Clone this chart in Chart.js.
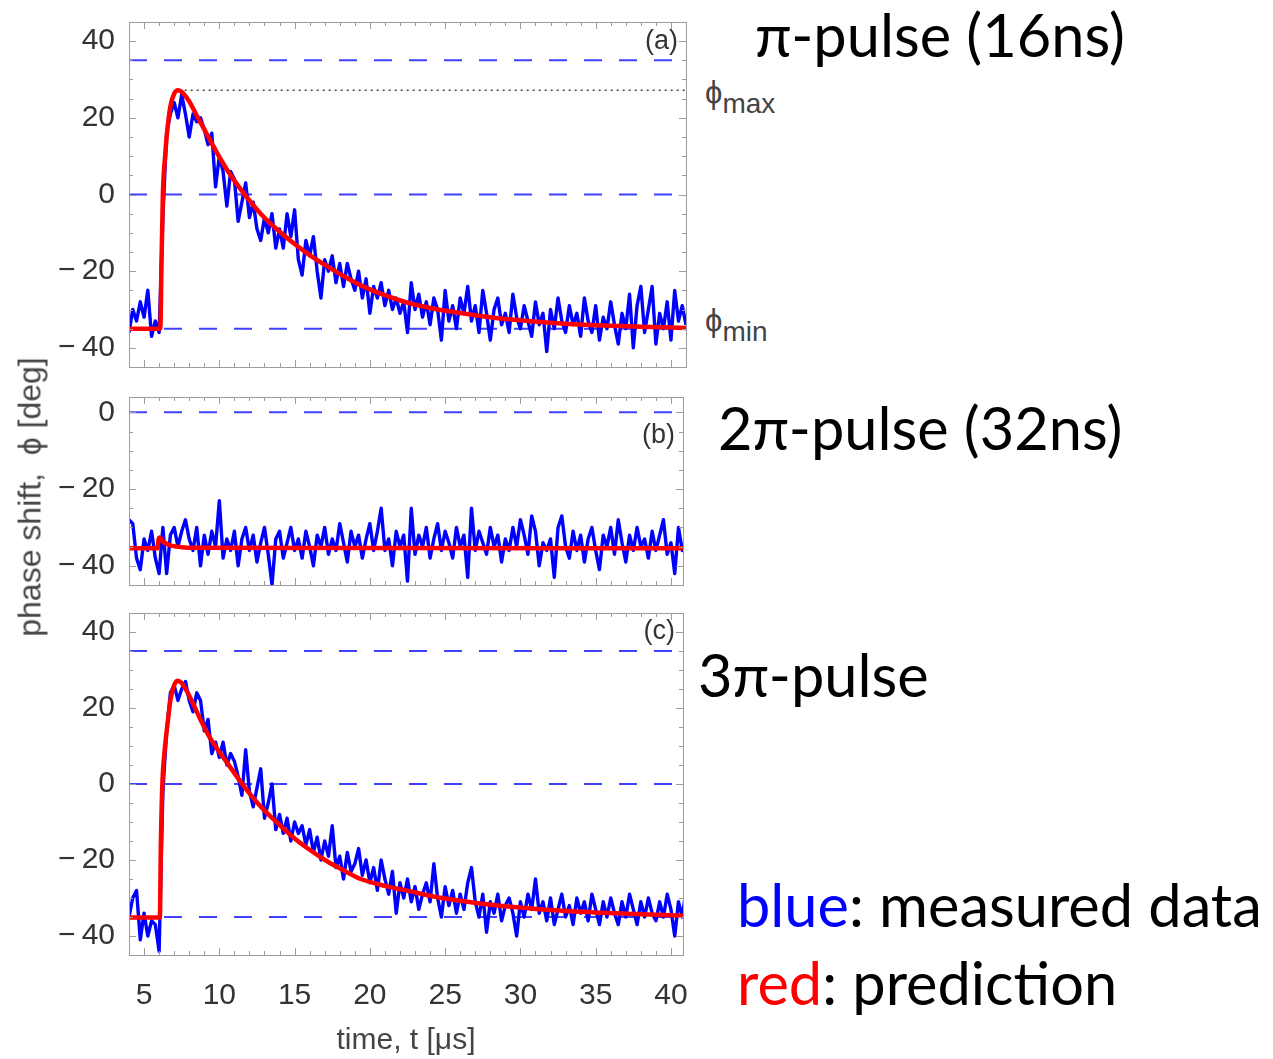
<!DOCTYPE html>
<html>
<head>
<meta charset="utf-8">
<script src="https://cdn.jsdelivr.net/npm/chart.js@4.4.0/dist/chart.umd.min.js"></script>
<style>
  body { margin: 0; background: #fff; }
  #page { position: relative; width: 1273px; height: 1059px; overflow: hidden; }
  canvas { position: absolute; left: 0; }
  .note { position: absolute; font-family: Lato, "Open Sans", sans-serif; font-size: 59.5px; line-height: 1; color: #000; white-space: nowrap; transform: translateY(-50%); }
  .phi { position: absolute; font-family: "Liberation Sans", "DejaVu Sans", sans-serif; font-size: 31px; line-height: 1; color: #444; white-space: nowrap; transform: translateY(-50%); }
  .phi span { position: relative; top: 10px; font-size: 28px; }
  #ytitle { position: absolute; left: 30px; top: 497px; transform: translate(-50%, -50%) rotate(-90deg); font-family: "Liberation Sans", sans-serif; font-size: 32px; color: #444; white-space: pre; }
</style>
</head>
<body>
<div id="page">
  <canvas id="panelA" width="700" height="380" style="top:0px"></canvas>
  <canvas id="panelB" width="700" height="220" style="top:380px"></canvas>
  <canvas id="panelC" width="700" height="459" style="top:600px"></canvas>
  <div id="ytitle">phase shift,  ϕ [deg]</div>
  <div class="phi" style="left:705px; top:92px">ϕ<span>max</span></div>
  <div class="phi" style="left:705px; top:320px">ϕ<span>min</span></div>
  <div class="note" style="left:755px; top:35px">π-pulse (16ns)</div>
  <div class="note" style="left:718px; top:428px">2π-pulse (32ns)</div>
  <div class="note" style="left:698px; top:675px">3π-pulse</div>
  <div class="note" style="left:737px; top:905px"><span style="color:#0000ff">blue</span>: measured data</div>
  <div class="note" style="left:737px; top:983px"><span style="color:#ff0000">red</span>: prediction</div>
</div>
<script>
// sampling grid of the measured traces (µs)
const timeStart = 4;
const timeStep = 0.25;

// measured phase shift [deg], panel (a) pi-pulse
const measuredA = [
  -36, -30, -33, -28, -32, -25, -37, -33,
  -36, -6, 16, 21, 24, 20, 26, 21,
  15, 21, 19, 20, 17, 13, 16, 2,
  10, 6, -3, 6, 4, -7, -2, 3,
  -6, -2, -9, -12, -6, -10, -5, -14,
  -9, -14, -5, -11, -4, -17, -21, -12,
  -16, -11, -20, -27, -17, -20, -16, -23,
  -18, -24, -18, -22, -25, -20, -27, -22,
  -31, -24, -27, -23, -29, -25, -30, -27,
  -31, -28, -36, -23, -30, -26, -32, -28,
  -34, -27, -30, -38, -25, -33, -29, -35,
  -27, -31, -24, -33, -29, -36, -25, -31,
  -38, -30, -27, -34, -31, -36, -26, -32,
  -35, -29, -33, -37, -28, -34, -31, -41,
  -30, -35, -27, -33, -36, -29, -34, -31,
  -37, -27, -33, -36, -29, -38, -32, -35,
  -28, -34, -39, -31, -35, -26, -40, -29,
  -24, -36, -30, -24, -39, -31, -35, -28,
  -38, -25, -33, -29, -34
];

// measured phase shift [deg], panel (b) 2pi-pulse
const measuredB = [
  -28, -29, -38, -41, -33, -36, -31, -38,
  -42, -30, -42, -32, -30, -35, -31, -28,
  -33, -36, -30, -40, -32, -37, -31, -35,
  -23, -38, -33, -36, -31, -40, -33, -30,
  -36, -32, -39, -34, -30, -37, -45, -33,
  -31, -38, -34, -30, -36, -33, -38, -31,
  -35, -40, -32, -35, -30, -37, -33, -36,
  -29, -34, -39, -31, -35, -32, -38, -33,
  -29, -36, -31, -25, -36, -33, -40, -31,
  -35, -32, -44, -25, -37, -32, -35, -30,
  -38, -33, -29, -36, -31, -34, -38, -30,
  -35, -32, -43, -25, -36, -31, -34, -37,
  -30, -35, -32, -39, -33, -36, -30, -35,
  -28, -32, -37, -27, -31, -40, -34, -36,
  -33, -43, -30, -27, -35, -38, -31, -36,
  -32, -39, -33, -30, -36, -41, -32, -35,
  -30, -37, -28, -34, -39, -32, -36, -30,
  -35, -33, -38, -31, -36, -32, -28, -37,
  -34, -42, -30, -36, -33
];

// measured phase shift [deg], panel (c) 3pi-pulse
const measuredC = [
  -35, -30, -28, -41, -34, -40, -36, -37,
  -44, -2, 14, 24, 26, 22, 25, 27,
  22, 19, 24, 22, 14, 17, 8, 11,
  7, 11, 5, 8, 6, 2, -3, 9,
  -2, -6, -1, 4, -9, -5, 0, -12,
  -8, -13, -9, -15, -10, -13, -11, -16,
  -12, -18, -14, -20, -15, -19, -11, -22,
  -19, -25, -18, -23, -21, -17, -24, -20,
  -26, -22, -28, -20, -25, -29, -23, -34,
  -26, -30, -25, -31, -27, -33, -29, -26,
  -31, -21, -30, -35, -27, -32, -28, -34,
  -29, -33, -26, -22, -31, -35, -29, -39,
  -31, -34, -29, -36, -32, -30, -34, -40,
  -31, -35, -29, -33, -25, -34, -31, -36,
  -30, -37, -33, -29, -35, -32, -37, -30,
  -34, -31, -36, -29, -33, -37, -31, -35,
  -30, -34, -37, -31, -35, -29, -33, -37,
  -31, -35, -30, -34, -36, -31, -35, -29,
  -33, -40, -31, -35, -28
];

// predicted phase shift (red curves)
const predTimeA = [4, 6.08, 6.15, 6.25, 6.4, 6.55, 6.75, 7.0, 7.25, 7.6, 8.0, 8.5, 9.0, 9.6, 10.5, 11.6, 12.7, 13.8, 14.9, 16.0, 17.15, 18.3, 19.4, 20.8, 22.4, 24.0, 26.0, 28.0, 30.0, 32.5, 35.0, 38.0, 41.0];
const predPhaseA = [-35, -35, -20, 0, 10, 17, 23, 26.3, 27.2, 26.4, 24.3, 20.6, 17, 12.6, 6.5, 0.4, -4.8, -9, -12.6, -15.8, -18.7, -21.4, -23.7, -26, -28.1, -29.6, -30.9, -32, -32.8, -33.6, -34.1, -34.5, -34.8];
const predTimeB = [4, 5.9, 5.97, 6.05, 6.3, 6.7, 7.2, 8.0, 41];
const predPhaseB = [-35.4, -35.4, -33, -32.6, -33.8, -34.6, -35.0, -35.3, -35.4];
const predTimeC = [4, 6.05, 6.12, 6.22, 6.35, 6.55, 6.77, 7.0, 7.2, 7.5, 7.9, 8.3, 8.8, 9.4, 10.5, 11.6, 12.7, 13.8, 14.9, 16.0, 17.1, 18.3, 19.4, 21.0, 22.4, 24.5, 26.7, 29.0, 31.1, 33.3, 35.5, 38.0, 41.0];
const predPhaseC = [-35.1, -35.1, -15, 0.5, 8, 15.5, 22.5, 26, 27.2, 26.6, 24, 20.8, 16.5, 12, 5.7, -0.4, -5.7, -10, -14, -17.3, -20.2, -22.8, -25, -26.8, -28, -29.8, -31.1, -32.2, -32.9, -33.5, -33.9, -34.3, -34.7];

// reference levels
const dashLevelsA = [35, 0, -35];
const dashLevelsB = [0];
const dashLevelsC = [35, 0, -35];
const phiMax = 27.2;
const phiMaxFrom = 7.3;

// tick labels
const timeTicks = [5, 10, 15, 20, 25, 30, 35, 40];
const phaseTicksA = [-40, -20, 0, 20, 40];
const phaseTicksB = [-40, -20, 0];
const phaseTicksC = [-40, -20, 0, 20, 40];

const tickFont = { family: "'Liberation Sans', Arial, sans-serif", size: 30 };
const fmt = v => (v < 0 ? '\u2212\u2009' + Math.abs(v) : String(v));

const frameTicks = {
	id: 'frameTicks',
	afterDatasetsDraw(chart, args, o) {
		const { ctx, chartArea: a, scales: { x, y } } = chart;
		ctx.save();
		ctx.strokeStyle = '#9c9c9c';
		ctx.lineWidth = 1;
		ctx.strokeRect(Math.round(a.left) + 0.5, Math.round(a.top) + 0.5, Math.round(a.right - a.left), Math.round(a.bottom - a.top));
		ctx.beginPath();
		for (let v = Math.ceil(x.min); v <= x.max; v++) {
			const px = Math.round(x.getPixelForValue(v)) + 0.5;
			const len = v % 5 === 0 ? 7 : 4;
			ctx.moveTo(px, a.bottom); ctx.lineTo(px, a.bottom - len);
			ctx.moveTo(px, a.top); ctx.lineTo(px, a.top + len);
		}
		for (let v = Math.ceil(y.min / 5) * 5; v <= y.max; v += 5) {
			const py = Math.round(y.getPixelForValue(v)) + 0.5;
			const len = v % 20 === 0 ? 7 : 4;
			ctx.moveTo(a.left, py); ctx.lineTo(a.left + len, py);
			ctx.moveTo(a.right, py); ctx.lineTo(a.right - len, py);
		}
		ctx.stroke();
		ctx.fillStyle = '#333';
		ctx.font = "27px 'Liberation Sans', Arial, sans-serif";
		ctx.textAlign = 'right';
		ctx.textBaseline = 'middle';
		ctx.fillText(o.tag, a.right - 8, a.top + o.tagY);
		ctx.restore();
	},
};

function makePanel(id, cfg) {
	const pts = (xs, ys) => xs.map((t, i) => ({ x: t, y: ys[i] }));
	const datasets = [
		{
			data: pts(cfg.predTime, cfg.predPhase),
			borderColor: '#ff0000',
			borderWidth: 4.5,
			cubicInterpolationMode: 'monotone',
			order: 0,
		},
		{
			data: cfg.measured.map((v, i) => ({ x: timeStart + i * timeStep, y: v })),
			borderColor: '#0000ff',
			borderWidth: 3.4,
			borderJoinStyle: 'round',
			order: 1,
		},
	];
	cfg.dashes.forEach((lvl) => {
		datasets.push({
			data: [{ x: cfg.xMin, y: lvl }, { x: cfg.xMax, y: lvl }],
			borderColor: 'rgba(30,30,255,0.85)',
			borderWidth: 2,
			borderDash: [18, 17],
			order: 3,
		});
	});
	if (cfg.showMax) {
		datasets.push({
			data: [{ x: phiMaxFrom, y: phiMax }, { x: cfg.xMax, y: phiMax }],
			borderColor: '#444',
			borderWidth: 1.5,
			borderDash: [2, 4],
			order: 2,
		});
	}
	new Chart(document.getElementById(id), {
		type: 'line',
		data: { datasets },
		options: {
			responsive: false,
			animation: false,
			events: [],
			elements: { point: { radius: 0 }, line: { tension: 0, fill: false } },
			layout: { padding: cfg.padding },
			plugins: {
				legend: { display: false },
				tooltip: { enabled: false },
				frameTicks: { tag: cfg.tag, tagY: cfg.tagY },
			},
			scales: {
				x: {
					type: 'linear',
					min: cfg.xMin,
					max: cfg.xMax,
					display: cfg.showTime,
					grid: { display: false, drawTicks: false },
					border: { display: false },
					afterBuildTicks: (s) => { s.ticks = timeTicks.map((v) => ({ value: v })); },
					afterFit: (s) => {
						if (cfg.showTime) s.height = 104;
						s.paddingLeft = 0; s.paddingRight = 0;
					},
					ticks: { font: tickFont, color: '#333', padding: 23, maxRotation: 0, autoSkip: false },
					title: {
						display: cfg.showTime,
						text: 'time, t [\u03bcs]',
						font: { family: "'Liberation Sans', Arial, sans-serif", size: 30 },
						color: '#444',
						padding: { top: 0, bottom: 0 },
					},
				},
				y: {
					type: 'linear',
					min: cfg.yMin,
					max: cfg.yMax,
					grid: { display: false, drawTicks: false },
					border: { display: false },
					afterBuildTicks: (s) => { s.ticks = cfg.yTicks.map((v) => ({ value: v })); },
					afterFit: (s) => {
						s.width = 129;
						s.paddingTop = 0; s.paddingBottom = 0;
					},
					ticks: { font: tickFont, color: '#333', padding: 14, callback: fmt },
				},
			},
		},
		plugins: [frameTicks],
	});
}

makePanel('panelA', {
	measured: measuredA, predTime: predTimeA, predPhase: predPhaseA,
	dashes: dashLevelsA, showMax: true, yTicks: phaseTicksA,
	xMin: 4, xMax: 41, yMin: -45, yMax: 45,
	padding: { left: 0, top: 22, right: 14, bottom: 13 },
	tag: '(a)', tagY: 20, showTime: false,
});
makePanel('panelB', {
	measured: measuredB, predTime: predTimeB, predPhase: predPhaseB,
	dashes: dashLevelsB, showMax: false, yTicks: phaseTicksB,
	xMin: 4, xMax: 40.8, yMin: -45, yMax: 4,
	padding: { left: 0, top: 17, right: 17, bottom: 15 },
	tag: '(b)', tagY: 39, showTime: false,
});
makePanel('panelC', {
	measured: measuredC, predTime: predTimeC, predPhase: predPhaseC,
	dashes: dashLevelsC, showMax: false, yTicks: phaseTicksC,
	xMin: 4, xMax: 40.8, yMin: -45, yMax: 45,
	padding: { left: 0, top: 13, right: 17, bottom: 0 },
	tag: '(c)', tagY: 19, showTime: true,
});
</script>
</body>
</html>
